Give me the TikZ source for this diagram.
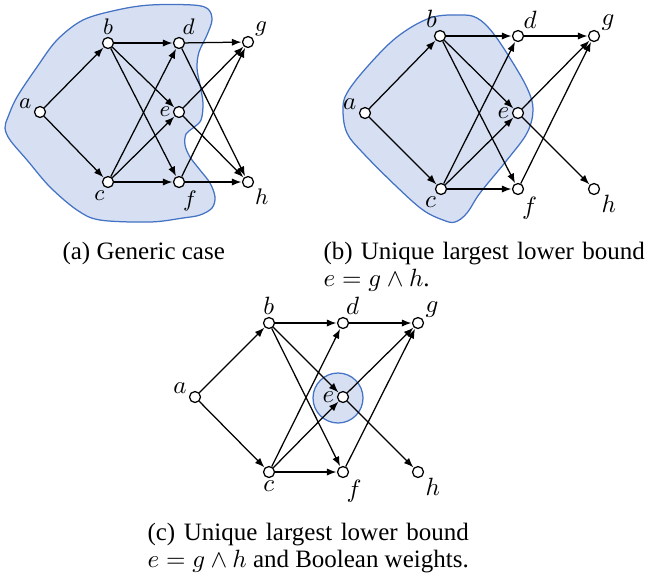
\documentclass[tikz,border=0pt]{standalone}
\usepackage{fontspec}
\setmainfont{Liberation Serif}
\usetikzlibrary{arrows.meta}
\definecolor{blobfill}{RGB}{214,224,242}
\definecolor{blobline}{RGB}{68,114,196}
\tikzset{
  vtx/.style={circle, draw, fill=white, inner sep=0pt, minimum size=4.4pt, line width=0.5pt},
  edge/.style={-{Latex[length=3.8pt,width=2.9pt]}, line width=0.5pt, shorten >=0.2pt},
  region/.style={fill=blobfill, draw=blobline, line width=0.5pt},
  lab/.style={inner sep=0.8pt},
  subcap/.style={anchor=base west, text width=128.5pt, align=justify, inner sep=0pt,
    font=\fontsize{10}{11}\selectfont},
}
\begin{document}
\begin{tikzpicture}[x=0.4pt, y=-0.4pt]
\useasboundingbox (0,0) rectangle (645,576);

% (a) generic case
\filldraw[region] plot[smooth cycle, tension=0.55] coordinates {
  (117,10) (150,5) (193,5) (208,9) (212,20) (207,35) (199,52) (197,68)
  (200,85) (203,103) (201,120) (193,128) (186,134) (185,145) (190,157)
  (200,170) (210,183) (215,197) (212,208) (200,215) (183,218) (150,222)
  (100,220) (77,210) (50,187) (27,160) (10,140) (5,128) (8,117) (17,97)
  (37,67) (57,40) (83,20)};
\begin{scope}[every label/.append style={font=\fontsize{9}{11}\selectfont}]
\node[vtx, label={[lab]175:$a$}] (a1) at (40,112) {};
\node[vtx, label={[lab]90:$b$}] (b1) at (108,43) {};
\node[vtx, label={[lab]260:$c$}] (c1) at (108,182) {};
\node[vtx, label={[lab]80:$d$}] (d1) at (179,43) {};
\node[vtx, label={[lab]180:$e$}] (e1) at (179,112) {};
\node[vtx, label={[lab]285:$f$}] (f1) at (179,182) {};
\node[vtx, label={[lab]40:$g$}] (g1) at (248,42) {};
\node[vtx, label={[lab]-40:$h$}] (h1) at (248,182) {};
\end{scope}
\foreach \s/\t in {a/b,a/c,b/d,b/e,b/f,c/d,c/e,c/f,d/g,d/h,e/g,e/h,f/g,f/h}
  \draw[edge] (\s1) -- (\t1);

% (b) unique largest lower bound
\filldraw[region] plot[smooth cycle, tension=0.6] coordinates {
  (460,15) (477,18) (493,33) (513,63) (528,90) (533,110) (527,133)
  (507,160) (480,193) (467,213) (455,222) (443,220) (423,210) (397,187)
  (363,153) (347,133) (343,110) (347,93) (367,67) (397,37) (430,18)};
\begin{scope}[every label/.append style={font=\fontsize{10}{12}\selectfont}]
\node[vtx, label={[lab]175:$a$}] (a2) at (365,113) {};
\node[vtx, label={[lab]95:$b$}] (b2) at (440,36) {};
\node[vtx, label={[lab]245:$c$}] (c2) at (441,189) {};
\node[vtx, label={[lab]60:$d$}] (d2) at (518,36) {};
\node[vtx, label={[lab]180:$e$}] (e2) at (518,113) {};
\node[vtx, label={[lab]285:$f$}] (f2) at (518,189) {};
\node[vtx, label={[lab]35:$g$}] (g2) at (594,36) {};
\node[vtx, label={[lab]-35:$h$}] (h2) at (594,189) {};
\end{scope}
\foreach \s/\t in {a/b,a/c,b/d,b/e,b/f,c/d,c/e,c/f,d/g,e/g,e/h,f/g}
  \draw[edge] (\s2) -- (\t2);

% (c) boolean weights
\filldraw[region] (338,398) circle[radius=10pt];
\begin{scope}[every label/.append style={font=\fontsize{10}{12}\selectfont}]
\node[vtx, label={[lab]170:$a$}] (a3) at (195,397) {};
\node[vtx, label={[lab]92:$b$}] (b3) at (269,323) {};
\node[vtx, label={[lab]268:$c$}] (c3) at (269,472) {};
\node[vtx, label={[lab]85:$d$}] (d3) at (343,323) {};
\node[vtx, label={[lab]180:$e$}] (e3) at (343,397) {};
\node[vtx, label={[lab]280:$f$}] (f3) at (343,472) {};
\node[vtx, label={[lab]35:$g$}] (g3) at (418,323) {};
\node[vtx, label={[lab]-35:$h$}] (h3) at (418,472) {};
\end{scope}
\foreach \s/\t in {a/b,a/c,b/d,b/e,b/f,c/d,c/e,c/f,d/g,e/g,e/h,f/g}
  \draw[edge] (\s3) -- (\t3);

% captions
\node[anchor=base west, inner sep=0pt, font=\fontsize{10}{11}\selectfont] (capa) at (62,259) {(a) Generic case};
\node[subcap] (capb) at (323,259) {(b) Unique largest lower bound $e=g\wedge h$.};
\node[subcap] (capc) at (147,540) {(c) Unique largest lower bound $e=g\wedge h$ and Boolean weights.};
\end{tikzpicture}
\end{document}
